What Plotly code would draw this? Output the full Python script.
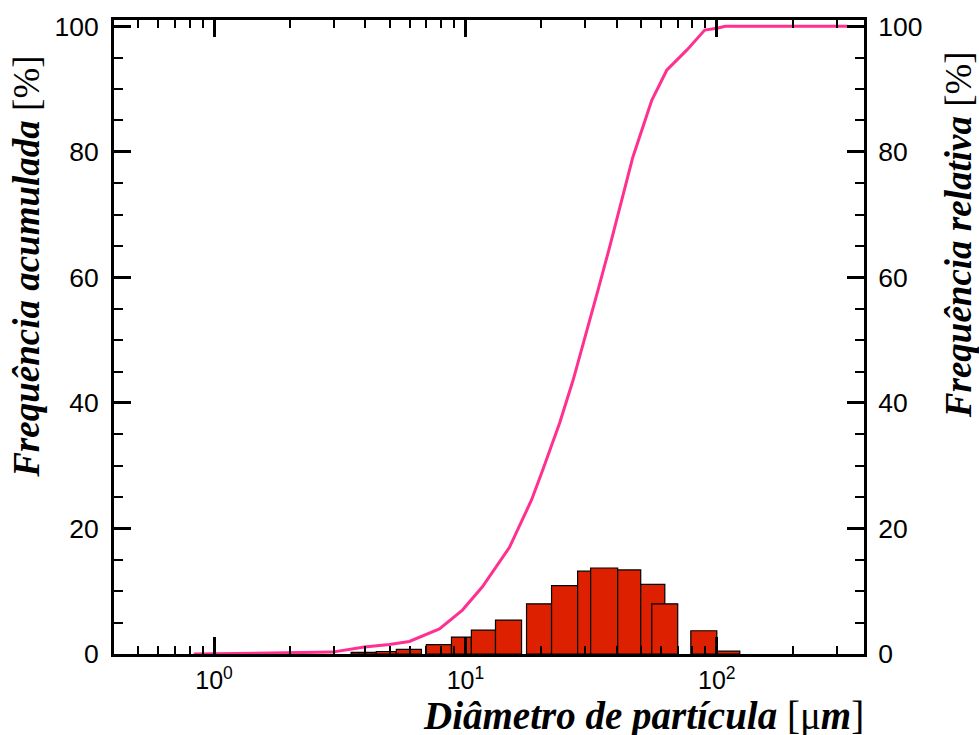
import math
import plotly.graph_objects as go

# Particle size distribution: bin edges [µm] and relative frequency [%]
bin_lo = [3.51, 4.42, 5.31, 6.99, 8.80, 10.56, 13.17, 17.50, 22.01, 27.94,
          31.48, 40.33, 49.8, 55.1, 78.8, 100.0]
bin_hi = [4.42, 5.31, 6.68, 8.80, 10.56, 13.17, 16.72, 22.01, 27.94, 31.48,
          40.33, 49.8, 62.1, 69.9, 100.0, 123.4]
rel_freq = [0.25, 0.4, 0.75, 1.5, 2.7, 3.8, 5.4, 8.0, 10.9, 13.2,
            13.7, 13.4, 11.1, 8.0, 3.7, 0.45]

# Cumulative frequency curve [%]
cum_d = [0.83, 1.16, 2.95, 3.96, 4.98, 5.98, 7.88, 9.73, 11.68, 14.97, 18.3,
         20.3, 23.7, 26.8, 30.3, 33.7, 37.5, 43.7, 46.3, 55.1, 63.2, 75.9,
         89.5, 100.0, 108.0, 332.0]
cum_v = [0.0, 0.1, 0.3, 1.1, 1.5, 2.0, 4.0, 7.0, 10.7, 17.0, 24.5,
         29.3, 36.8, 43.6, 51.1, 58.0, 64.9, 75.5, 79.1, 88.2, 93.0, 96.2,
         99.4, 99.7, 100.0, 100.0]

x_major = [1, 10, 100]
x_major_text = ["10<sup>0</sup>", "10<sup>1</sup>", "10<sup>2</sup>"]
y_major = [0, 20, 40, 60, 80, 100]

BAR_FILL = "#DD2000"
CURVE = "#FF3090"

X_RANGE = [math.log10(0.4), math.log10(385)]

fig = go.Figure()

# Histogram bars (relative frequency, right axis)
for lo, hi, v in zip(bin_lo, bin_hi, rel_freq):
    fig.add_trace(go.Scatter(
        x=[lo, lo, hi, hi, lo], y=[0, v, v, 0, 0],
        mode="lines", fill="toself", fillcolor=BAR_FILL,
        line=dict(color="black", width=1.2),
        xaxis="x", yaxis="y", hoverinfo="skip"))

# Cumulative curve (left axis)
fig.add_trace(go.Scatter(
    x=cum_d, y=cum_v, mode="lines",
    line=dict(color=CURVE, width=3), xaxis="x", yaxis="y2"))

# Short ticks at 2..9 of every decade
minor_x = ([0.5, 0.6, 0.7, 0.8, 0.9]
           + [k for k in range(2, 10)]
           + [10 * k for k in range(2, 10)]
           + [200, 300])

# Extra log axes (bottom minor, top major, top minor) that only carry ticks
for ax in ["x2", "x3", "x4"]:
    fig.add_trace(go.Scatter(x=[], y=[], xaxis=ax, yaxis="y",
                             mode="markers", hoverinfo="skip"))

x_tick_font = dict(family="Liberation Sans, Arial, sans-serif", size=25, color="black")
y_tick_font = dict(family="Liberation Sans, Arial, sans-serif", size=26.5, color="black")

yax_common = dict(
    range=[0, 101], tickmode="array", tickvals=y_major,
    ticks="inside", ticklen=17, tickwidth=2.5, tickcolor="black",
    showline=True, linewidth=3, linecolor="black",
    showgrid=False, zeroline=False, tickfont=y_tick_font,
    minor=dict(dtick=5, ticks="inside", ticklen=9, tickwidth=1.5,
               tickcolor="black", showgrid=False),
)

tick_axis = dict(type="log", range=X_RANGE, overlaying="x", anchor="y",
                 showticklabels=False, tickmode="array", tickcolor="black",
                 ticks="inside", showline=False, showgrid=False, zeroline=False)

fig.update_layout(
    width=979, height=735,
    margin=dict(l=114, r=115, t=20, b=81, pad=0),
    paper_bgcolor="white", plot_bgcolor="white",
    showlegend=False,
    xaxis=dict(
        type="log", range=X_RANGE,
        tickmode="array", tickvals=x_major, ticktext=x_major_text,
        ticks="inside", ticklen=17, tickwidth=2.5, tickcolor="black",
        showline=True, linewidth=3, linecolor="black", mirror=True,
        showgrid=False, zeroline=False, tickfont=x_tick_font,
        ticklabelstandoff=2,
    ),
    xaxis2=dict(side="bottom", tickvals=minor_x, ticklen=8, tickwidth=1.5, **tick_axis),
    xaxis3=dict(side="top", tickvals=x_major, ticklen=17, tickwidth=2.5, **tick_axis),
    xaxis4=dict(side="top", tickvals=minor_x, ticklen=8, tickwidth=1.5, **tick_axis),
    yaxis=dict(side="right", ticklabelstandoff=6, **yax_common),
    yaxis2=dict(side="left", overlaying="y", ticklabelstandoff=7, **yax_common),
)

title_font = dict(family="Liberation Serif, Times New Roman, serif", size=37, color="black")

fig.add_annotation(
    text="<b><i>Frequência acumulada</i></b> [%]",
    xref="paper", yref="paper", x=-0.117, y=0.947,
    xanchor="center", yanchor="top", textangle=-90,
    showarrow=False, font=title_font)

fig.add_annotation(
    text="<b><i>Frequência relativa</i></b> [%]",
    xref="paper", yref="paper", x=1.126, y=0.954,
    xanchor="center", yanchor="top", textangle=-90,
    showarrow=False, font=title_font)

fig.add_annotation(
    text="<b><i>Diâmetro de partícula</i></b> [μ<b><i>m</i></b>]",
    xref="paper", yref="paper", x=1.003, y=-0.098,
    xanchor="right", yanchor="middle",
    showarrow=False, font=dict(family="Liberation Serif, Times New Roman, serif",
                               size=39, color="black"))

fig.write_html("out.html")
